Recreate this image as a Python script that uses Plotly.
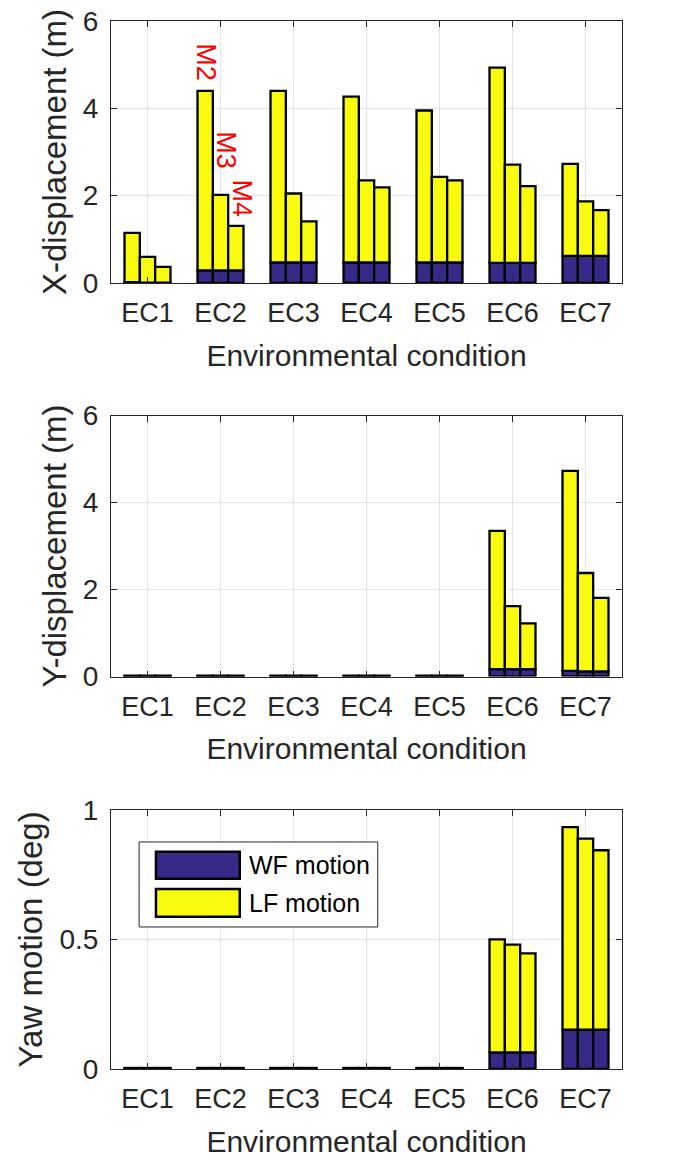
import plotly.graph_objects as go
from plotly.subplots import make_subplots

categories = ["EC1", "EC2", "EC3", "EC4", "EC5", "EC6", "EC7"]
models = ["M2", "M3", "M4"]

# X-displacement (m): WF (wave-frequency) and LF (low-frequency) parts per model
x_wf = {
    "M2": [0.02, 0.29, 0.47, 0.47, 0.47, 0.46, 0.62],
    "M3": [0.01, 0.29, 0.47, 0.47, 0.47, 0.46, 0.62],
    "M4": [0.01, 0.29, 0.47, 0.47, 0.47, 0.46, 0.62],
}
x_lf = {
    "M2": [1.13, 4.11, 3.93, 3.80, 3.48, 4.47, 2.11],
    "M3": [0.59, 1.73, 1.58, 1.88, 1.96, 2.25, 1.25],
    "M4": [0.36, 1.02, 0.94, 1.72, 1.88, 1.76, 1.05],
}
# Y-displacement (m)
y_wf = {
    "M2": [0.01, 0.01, 0.01, 0.01, 0.01, 0.17, 0.13],
    "M3": [0.01, 0.01, 0.01, 0.01, 0.01, 0.17, 0.12],
    "M4": [0.01, 0.01, 0.01, 0.01, 0.01, 0.17, 0.12],
}
y_lf = {
    "M2": [0.01, 0.01, 0.01, 0.01, 0.01, 3.18, 4.60],
    "M3": [0.01, 0.01, 0.01, 0.01, 0.01, 1.45, 2.26],
    "M4": [0.01, 0.01, 0.01, 0.01, 0.01, 1.05, 1.69],
}
# Yaw motion (deg)
yaw_wf = {
    "M2": [0.002, 0.002, 0.002, 0.002, 0.002, 0.064, 0.152],
    "M3": [0.002, 0.002, 0.002, 0.002, 0.002, 0.064, 0.152],
    "M4": [0.002, 0.002, 0.002, 0.002, 0.002, 0.064, 0.152],
}
yaw_lf = {
    "M2": [0.002, 0.002, 0.002, 0.002, 0.002, 0.436, 0.781],
    "M3": [0.002, 0.002, 0.002, 0.002, 0.002, 0.416, 0.737],
    "M4": [0.002, 0.002, 0.002, 0.002, 0.002, 0.382, 0.692],
}

y_titles = ["X-displacement (m)", "Y-displacement (m)", "Yaw motion (deg)"]
y_ranges = [[0, 6], [0, 6], [0, 1]]
y_ticks = [[0, 2, 4, 6], [0, 2, 4, 6], [0, 0.5, 1]]
y_ticktext = [["0", "2", "4", "6"], ["0", "2", "4", "6"], ["0", "0.5", "1"]]
x_title = "Environmental condition"
legend_labels = ["WF motion", "LF motion"]

WF_COLOR = "#352a87"
LF_COLOR = "#f9fb0e"
AX_COLOR = "#262626"
GRID_COLOR = "#e3e3e3"
FONT = "Liberation Sans, Arial, Helvetica, sans-serif"

xpos = list(range(1, len(categories) + 1))

fig = make_subplots(rows=3, cols=1)

panels = [(x_wf, x_lf), (y_wf, y_lf), (yaw_wf, yaw_lf)]
for r, (wf, lf) in enumerate(panels, start=1):
    for k, m in enumerate(models):
        fig.add_trace(go.Bar(
            x=xpos, y=wf[m], offsetgroup=str(k), name=legend_labels[0],
            marker=dict(color=WF_COLOR, line=dict(color="black", width=2.3)),
            showlegend=False, hoverinfo="skip"), row=r, col=1)
        fig.add_trace(go.Bar(
            x=xpos, y=lf[m], base=wf[m], offsetgroup=str(k), name=legend_labels[1],
            marker=dict(color=LF_COLOR, line=dict(color="black", width=2.3)),
            showlegend=False, hoverinfo="skip"), row=r, col=1)

domains = [[0.750, 1.0], [0.3745, 0.6235], [0.0, 0.2473]]
for r in range(1, 4):
    fig.update_xaxes(
        row=r, col=1, range=[0.5, 7.5], tickvals=xpos, ticktext=categories,
        ticks="inside", ticklen=6, tickwidth=1, tickcolor=AX_COLOR,
        showline=True, linecolor=AX_COLOR, linewidth=1, mirror="ticks",
        showgrid=True, gridcolor=GRID_COLOR, gridwidth=1, zeroline=False,
        tickfont=dict(family=FONT, size=27, color=AX_COLOR),
        ticklabelstandoff=6, automargin=False,
        title=dict(text=x_title, font=dict(family=FONT, size=30, color=AX_COLOR), standoff=17),
    )
    fig.update_yaxes(
        row=r, col=1, range=y_ranges[r - 1], tickvals=y_ticks[r - 1], ticktext=y_ticktext[r - 1],
        domain=domains[r - 1],
        ticks="inside", ticklen=6, tickwidth=1, tickcolor=AX_COLOR,
        showline=True, linecolor=AX_COLOR, linewidth=1, mirror="ticks",
        showgrid=True, gridcolor=GRID_COLOR, gridwidth=1, zeroline=False,
        tickfont=dict(family=FONT, size=28, color=AX_COLOR),
        ticklabelstandoff=6, automargin=False,
        title=dict(text=y_titles[r - 1], font=dict(family=FONT, size=33, color=AX_COLOR), standoff=6),
    )

# M2 / M3 / M4 labels above the EC2 group
m_label_y = [5.05, 3.05, 1.94]
m_label_shift = [0, 6, 6]
for k, m in enumerate(models):
    fig.add_annotation(
        x=2 + (k - 1) * 0.21, y=m_label_y[k], xref="x", yref="y", text=m,
        textangle=90, showarrow=False, xshift=m_label_shift[k],
        font=dict(family=FONT, size=27, color="red"))

# Legend drawn in bottom panel (large swatches like the original)
fig.add_shape(type="rect", xref="x3 domain", yref="y3 domain",
              x0=0.055, x1=0.522, y0=0.548, y1=0.876,
              fillcolor="white", line=dict(color=AX_COLOR, width=1), layer="above")
swatches = [(WF_COLOR, 0.734, 0.838, 0.786), (LF_COLOR, 0.587, 0.695, 0.641)]
for (col, y0, y1, yc), lab in zip(swatches, legend_labels):
    fig.add_shape(type="rect", xref="x3 domain", yref="y3 domain",
                  x0=0.088, x1=0.252, y0=y0, y1=y1,
                  fillcolor=col, line=dict(color="black", width=2.5), layer="above")
    fig.add_annotation(xref="x3 domain", yref="y3 domain", x=0.266, y=yc,
                       text=lab, showarrow=False, xanchor="left", yanchor="middle",
                       font=dict(family=FONT, size=25, color="black"))

fig.update_layout(
    width=686, height=1165,
    margin=dict(l=111, r=64, t=21, b=96, autoexpand=False),
    barmode="group", bargap=0.37, bargroupgap=0,
    plot_bgcolor="white", paper_bgcolor="white",
    showlegend=False,
    font=dict(family=FONT, color=AX_COLOR),
)

fig.write_html("out.html")
